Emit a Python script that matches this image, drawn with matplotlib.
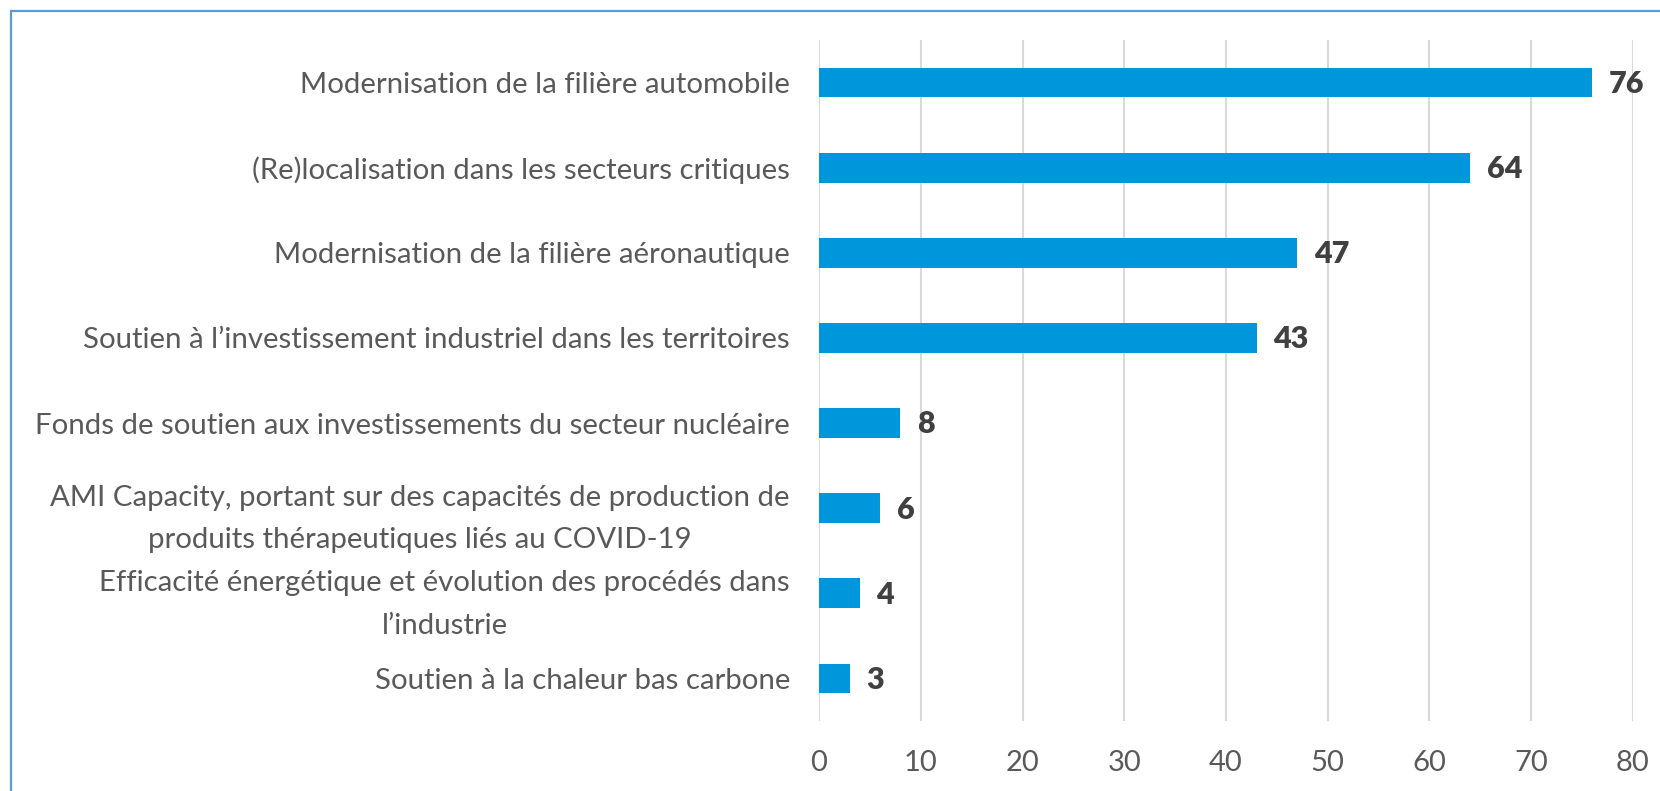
import matplotlib
matplotlib.use("Agg")
import matplotlib.pyplot as plt
from matplotlib.patches import Rectangle

categories = [
    "Modernisation de la filière automobile",
    "(Re)localisation dans les secteurs critiques",
    "Modernisation de la filière aéronautique",
    "Soutien à l’investissement industriel dans les territoires",
    "Fonds de soutien aux investissements du secteur nucléaire",
    "AMI Capacity, portant sur des capacités de production de\nproduits thérapeutiques liés au COVID-19",
    "Efficacité énergétique et évolution des procédés dans\nl’industrie",
    "Soutien à la chaleur bas carbone",
]
values = [76, 64, 47, 43, 8, 6, 4, 3]
x_ticks = [0, 10, 20, 30, 40, 50, 60, 70, 80]

BAR_COLOR = "#0096DC"
TEXT_COLOR = "#595959"


def main():
    plt.rcParams["font.family"] = ["Lato", "DejaVu Sans"]
    fig = plt.figure(figsize=(16.6, 7.91), dpi=100)
    ax = fig.add_axes([0.4934, 0.0885, 0.4903, 0.8609])

    pos = list(range(len(categories)))
    ax.barh(pos, values, height=0.35, color=BAR_COLOR, zorder=3)

    for p, v in zip(pos, values):
        ax.annotate(str(v), (v, p), xytext=(12, -1), textcoords="offset points",
                    va="center", ha="left", fontsize=22, fontweight="heavy",
                    color="#404040")

    ax.set_xlim(0, 80)
    ax.set_ylim(len(categories) - 0.5, -0.5)
    ax.set_xticks(x_ticks)
    ax.set_yticks(pos)
    ax.set_yticklabels(categories, multialignment="center", linespacing=1.8)
    ax.tick_params(axis="y", length=0, pad=21, labelsize=21.2, labelcolor=TEXT_COLOR)
    ax.tick_params(axis="x", length=0, pad=21, labelsize=21, labelcolor=TEXT_COLOR)

    ax.grid(axis="x", color="#d9d9d9", linewidth=1.5, zorder=0)
    for s in ax.spines.values():
        s.set_visible(False)

    # outer chart frame (right and bottom edges fall outside the image)
    fig.patches.append(Rectangle((11 / 1660, -0.05), 1.2, 1 - 11 / 791 + 0.05,
                                 transform=fig.transFigure, fill=False,
                                 edgecolor="#5B9BD5", linewidth=1.6))

    fig.savefig("out.png", dpi=100)


if __name__ == "__main__":
    main()
